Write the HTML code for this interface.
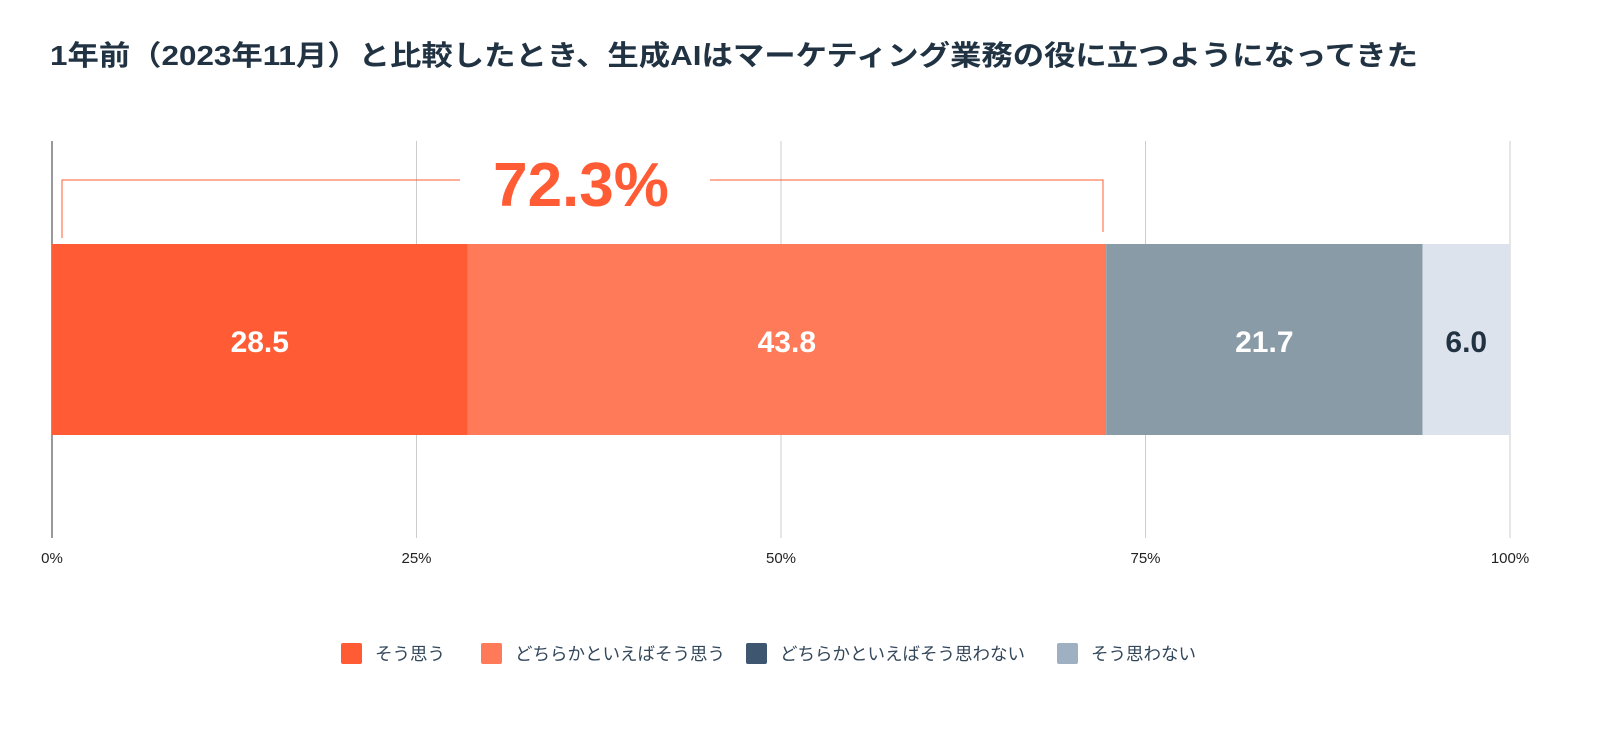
<!DOCTYPE html>
<html><head><meta charset="utf-8"><style>
body{margin:0;background:#fff;width:1600px;height:748px;overflow:hidden;font-family:"Liberation Sans","Noto Sans CJK JP",sans-serif;}
</style></head><body>
<svg width="1600" height="748" xmlns="http://www.w3.org/2000/svg">
<text x="50" y="65" font-size="28" font-weight="bold" fill="#213343" textLength="1368" lengthAdjust="spacingAndGlyphs" font-family="'Liberation Sans','Noto Sans CJK JP',sans-serif">1年前（2023年11月）と比較したとき、生成AIはマーケティング業務の役に立つようになってきた</text>
<g id="grid"></g>
<g id="bars"></g>
<g id="bracket">
<polyline points="62,238 62,180 460,180" fill="none" stroke="#ff5c35" stroke-width="1"/>
<polyline points="710,180 1103,180 1103,232" fill="none" stroke="#ff5c35" stroke-width="1"/>
<text x="581" y="206" text-anchor="middle" font-size="62" font-weight="bold" fill="#ff5c35">72.3%</text>
</g>
<g id="legend"></g>
</svg>
<script>
const categories=["そう思う","どちらかといえばそう思う","どちらかといえばそう思わない","そう思わない"];
const values=[28.5,43.8,21.7,6.0];
const barColors=["#ff5c35","#ff7a59","#8a9ba8","#dde3ec"];
const legendColors=["#ff5c35","#ff7a59","#3e5670","#9fb0c3"];
const labelColors=["#fff","#fff","#fff","#213343"];
const ticks=[0,25,50,75,100];
const NS="http://www.w3.org/2000/svg";
const x0=52,x1=1510;
const xs=v=>x0+(x1-x0)*v/100;
function mk(t,a,p){const e=document.createElementNS(NS,t);for(const k in a)e.setAttribute(k,a[k]);p.appendChild(e);return e;}
const grid=document.getElementById('grid');
ticks.forEach(t=>{
 const l=mk('line',{x1:xs(t),x2:xs(t),y1:141,y2:538,stroke:t===0?'#333':'#ccc','stroke-width':1},grid);
 
 
 const tx=mk('text',{x:xs(t),y:563,'text-anchor':'middle','font-size':15,fill:'#222'},grid);
 tx.textContent=t+'%';
 
 
});
const bars=document.getElementById('bars');
let acc=0;
values.forEach((v,i)=>{
 const r=mk('rect',{x:xs(acc),y:244,width:xs(acc+v)-xs(acc),height:191,fill:barColors[i]},bars);
 
 
 const t=mk('text',{x:(xs(acc)+xs(acc+v))/2,y:352,'text-anchor':'middle','font-size':30,'font-weight':'bold',fill:labelColors[i]},bars);
 t.textContent=v.toFixed(1);
 
 
 acc+=v;
});
const lg=document.getElementById('legend');
const lx=[341,481,746,1057];
categories.forEach((c,i)=>{
 const r=mk('rect',{x:lx[i],y:643,width:21,height:21,rx:2,fill:legendColors[i]},lg);
 
 
 const t=mk('text',{x:lx[i]+34,y:660,'font-size':17.5,fill:'#33475b'},lg);
 t.textContent=c;
 
 
});
</script>
</body></html>
